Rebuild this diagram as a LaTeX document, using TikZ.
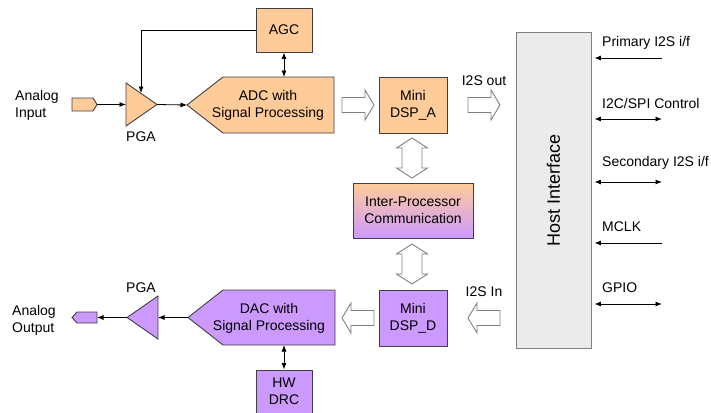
\documentclass[tikz,border=0pt]{standalone}
\usepackage{fontspec}
\setmainfont{Liberation Sans}
\usetikzlibrary{arrows.meta}

\definecolor{orng}{HTML}{FFCC99}
\definecolor{purp}{HTML}{CC99FF}
\definecolor{edge}{HTML}{404040}
\definecolor{hostgray}{HTML}{EBEBEB}

\tikzset{
  blk/.style={draw=edge, line width=0.9pt, inner sep=0pt, align=center},
  obox/.style={blk, fill=orng},
  pbox/.style={blk, fill=purp},
  hollow/.style={draw=gray, line width=0.9pt, fill=white},
  sig/.style={-{Latex[length=6.5pt,width=5pt]}, line width=0.8pt},
  bisig/.style={{Latex[length=6.5pt,width=5pt]}-{Latex[length=6.5pt,width=5pt]}, line width=0.8pt},
  lbl/.style={inner sep=0pt, align=left},
}

\begin{document}
\begin{tikzpicture}[x=1pt, y=-1pt, font=\fontsize{14}{17}\selectfont]
    \useasboundingbox (0,0) rectangle (711,412);

    % ADC-Pfad
    \filldraw[obox] (72,98) -- (93,98) -- (97,104.5) -- (93,111) -- (72,111) -- cycle;
    \coordinate (ain) at (97,104.5);
    \node[lbl, anchor=west] (ainlbl) at (15,105) {Analog\\Input};

    \filldraw[obox] (126,83) -- (157,104.5) -- (126,126) -- cycle;
    \coordinate (pgaain) at (126,104.5);
    \coordinate (pgaaout) at (157,104.5);
    \coordinate (pgaafb) at (141,93);
    \node (pgaalbl) at (141,137) {PGA};

    \filldraw[obox] (223,77) -- (334,77) -- (334,133) -- (223,133) -- (187,105) -- cycle;
    \coordinate (adctip) at (187,105);
    \coordinate (adctop) at (284,77);
    \node[inner sep=0pt, align=center] (adc) at (268,105) {ADC with\\Signal Processing};

    \node[obox, minimum width=56, minimum height=44] (agc) at (284,30) {AGC};

    \draw[sig] (ain) -- (pgaain);
    \draw[sig] (pgaaout) -- (adctip);
    \draw[sig] (agc.west) -| (pgaafb);
    \draw[bisig] (agc.south) -- (adctop);

    % DSP-Bloecke
    \node[obox, minimum width=68, minimum height=56] (dspa) at (413,105) {Mini\\DSP\_A};
    \node[blk, top color=orng, bottom color=purp, minimum width=120, minimum height=55] (ipc) at (413,210.5) {Inter-Processor\\Communication};
    \node[pbox, minimum width=68, minimum height=56] (dspd) at (413,318) {Mini\\DSP\_D};

    \draw[hollow] (342,97.5) -- ++(23,0) -- ++(0,-7.5) -- ++(9,15) -- ++(-9,15) -- ++(0,-7.5) -- ++(-23,0) -- cycle;
    \draw[hollow] (468,97.5) -- ++(23,0) -- ++(0,-7.5) -- ++(9,15) -- ++(-9,15) -- ++(0,-7.5) -- ++(-23,0) -- cycle;
    \draw[hollow] (500,310.5) -- ++(-23,0) -- ++(0,-7.5) -- ++(-9,15) -- ++(9,15) -- ++(0,-7.5) -- ++(23,0) -- cycle;
    \draw[hollow] (374,310.5) -- ++(-23,0) -- ++(0,-7.5) -- ++(-9,15) -- ++(9,15) -- ++(0,-7.5) -- ++(23,0) -- cycle;
    \draw[hollow] (402,148) -- ++(0,20) -- ++(-5.5,0) -- ++(15.5,10) -- ++(15.5,-10) -- ++(-5.5,0) -- ++(0,-20) -- ++(5.5,0) -- ++(-15.5,-10) -- ++(-15.5,10) -- cycle;
    \draw[hollow] (402,254) -- ++(0,20) -- ++(-5.5,0) -- ++(15.5,10) -- ++(15.5,-10) -- ++(-5.5,0) -- ++(0,-20) -- ++(5.5,0) -- ++(-15.5,-10) -- ++(-15.5,10) -- cycle;

    \node (i2sout) at (484,81) {I2S out};
    \node (i2sin) at (484,292) {I2S In};

    % DAC-Pfad
    \filldraw[pbox] (223,290) -- (335,290) -- (335,345) -- (223,345) -- (188,317.5) -- cycle;
    \coordinate (dactip) at (188,317.5);
    \coordinate (dacbot) at (284,345);
    \node[inner sep=0pt, align=center] (dac) at (269,318) {DAC with\\Signal Processing};

    \filldraw[pbox] (158,296) -- (158,339) -- (127,317.5) -- cycle;
    \coordinate (pgadin) at (158,317.5);
    \coordinate (pgadout) at (127,317.5);
    \node (pgadlbl) at (141,288) {PGA};

    \filldraw[pbox] (72,317.5) -- (77,312) -- (97,312) -- (97,323) -- (77,323) -- cycle;
    \coordinate (aout) at (97,317.5);
    \node[lbl, anchor=west] (aoutlbl) at (12,320) {Analog\\Output};

    \node[pbox, minimum width=56, minimum height=43] (drc) at (284,391.5) {HW\\DRC};

    \draw[sig] (dactip) -- (pgadin);
    \draw[sig] (pgadout) -- (aout);
    \draw[bisig] (dacbot) -- (drc.north);

    % Host-Schnittstelle
    \node[draw=gray, fill=hostgray, line width=0.9pt, rotate=90, minimum width=316, minimum height=75,
          font=\fontsize{18}{20}\selectfont] (host) at (553.5,190) {Host Interface};

    \coordinate (pri) at (662,58);
    \coordinate (ctl) at (662,119);
    \coordinate (sec) at (662,182);
    \coordinate (mclk) at (662,243);
    \coordinate (gpio) at (662,304);
    \draw[sig, shorten >=3pt] (pri) -- (pri -| host.south);
    \draw[bisig, shorten <=3pt] (ctl -| host.south) -- (ctl);
    \draw[bisig, shorten <=3pt] (sec -| host.south) -- (sec);
    \draw[sig, shorten >=3pt] (mclk) -- (mclk -| host.south);
    \draw[bisig, shorten <=3pt] (gpio -| host.south) -- (gpio);

    \node[lbl, anchor=west] (prilbl) at (602,43) {Primary I2S i/f};
    \node[lbl, anchor=west] (ctllbl) at (602,103) {I2C/SPI Control};
    \node[lbl, anchor=west] (seclbl) at (602,163) {Secondary I2S i/f};
    \node[lbl, anchor=west] (mclklbl) at (602,227) {MCLK};
    \node[lbl, anchor=west] (gpiolbl) at (602,288) {GPIO};
\end{tikzpicture}
\end{document}
